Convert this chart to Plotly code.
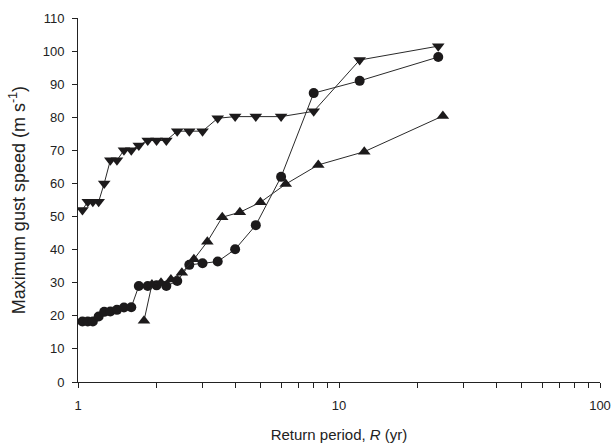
import plotly.graph_objects as go

# Circles series
circle_R = [1.04, 1.09, 1.14, 1.20, 1.26, 1.33, 1.41, 1.50, 1.60, 1.71, 1.85, 2.00,
            2.18, 2.40, 2.67, 3.00, 3.43, 4.00, 4.80, 6.00, 8.00, 12.0, 24.0]
circle_V = [18.3, 18.3, 18.3, 19.8, 21.2, 21.3, 21.8, 22.5, 22.6, 29.0, 29.0, 29.2,
            29.0, 30.5, 35.4, 35.9, 36.4, 40.1, 47.4, 62.0, 87.3, 91.0, 98.2]

# Upward triangles series
up_R = [1.79, 1.92, 2.08, 2.27, 2.50, 2.78, 3.13, 3.57, 4.17, 5.00, 6.25, 8.33, 12.5, 25.0]
up_V = [18.5, 29.5, 30.0, 31.0, 33.0, 37.1, 42.4, 49.8, 51.3, 54.3, 59.8, 65.6, 69.6, 80.4]

# Downward triangles series
down_R = [1.04, 1.09, 1.14, 1.20, 1.26, 1.33, 1.41, 1.50, 1.60, 1.71, 1.85, 2.00,
          2.18, 2.40, 2.67, 3.00, 3.43, 4.00, 4.80, 6.00, 8.00, 12.0, 24.0]
down_V = [52.0, 54.5, 54.5, 54.5, 60.0, 67.0, 67.0, 70.0, 70.0, 71.5, 73.0, 73.0,
          73.0, 75.8, 75.8, 75.8, 79.7, 80.2, 80.2, 80.2, 81.8, 97.3, 101.5]

x_tickvals = [1, 10, 100]
x_ticktext = ["1", "10", "100"]
x_minor = [2, 3, 4, 5, 6, 7, 8, 9, 20, 30, 40, 50, 60, 70, 80, 90]
y_tickvals = list(range(0, 111, 10))

INK = "#1c1a1b"
LINE = "#2a2a2a"

fig = go.Figure()
fig.add_trace(go.Scatter(x=circle_R, y=circle_V, mode="lines+markers",
                         line=dict(color=LINE, width=1),
                         marker=dict(symbol="circle", size=10, color=INK)))
fig.add_trace(go.Scatter(x=up_R, y=up_V, mode="lines+markers",
                         line=dict(color=LINE, width=1),
                         marker=dict(symbol="triangle-up", size=11, color=INK)))
fig.add_trace(go.Scatter(x=down_R, y=down_V, mode="lines+markers",
                         line=dict(color=LINE, width=1),
                         marker=dict(symbol="triangle-down", size=11, color=INK)))

font = "Liberation Sans, Arial, sans-serif"
fig.update_layout(
    width=612, height=443,
    margin=dict(l=78, r=12, t=18, b=61, autoexpand=False),
    paper_bgcolor="white", plot_bgcolor="white",
    showlegend=False,
    font=dict(family=font, size=12, color="#222"),
    xaxis=dict(type="log", range=[0, 2], tickvals=x_tickvals, ticktext=x_ticktext,
               automargin=False,
               ticks="outside", ticklen=5, tickcolor="#222", tickwidth=1,
               ticklabelstandoff=6,
               showline=True, linecolor="#222", linewidth=1,
               showgrid=False, zeroline=False,
               minor=dict(tickvals=x_minor, ticks="outside", ticklen=5,
                          tickcolor="#222", showgrid=False),
               tickfont=dict(size=13),
               title=dict(text="Return period, <i>R</i> (yr)", font=dict(size=15), standoff=20)),
    yaxis=dict(range=[0, 110], tickvals=y_tickvals,
               automargin=False,
               ticks="outside", ticklen=5, tickcolor="#222", tickwidth=1,
               ticklabelstandoff=5,
               showline=True, linecolor="#222", linewidth=1,
               showgrid=False, zeroline=False,
               tickfont=dict(size=13),
               title=dict(text="Maximum gust speed (m s<sup>-1</sup>)", font=dict(size=18), standoff=12)),
)

fig.write_html("out.html")
